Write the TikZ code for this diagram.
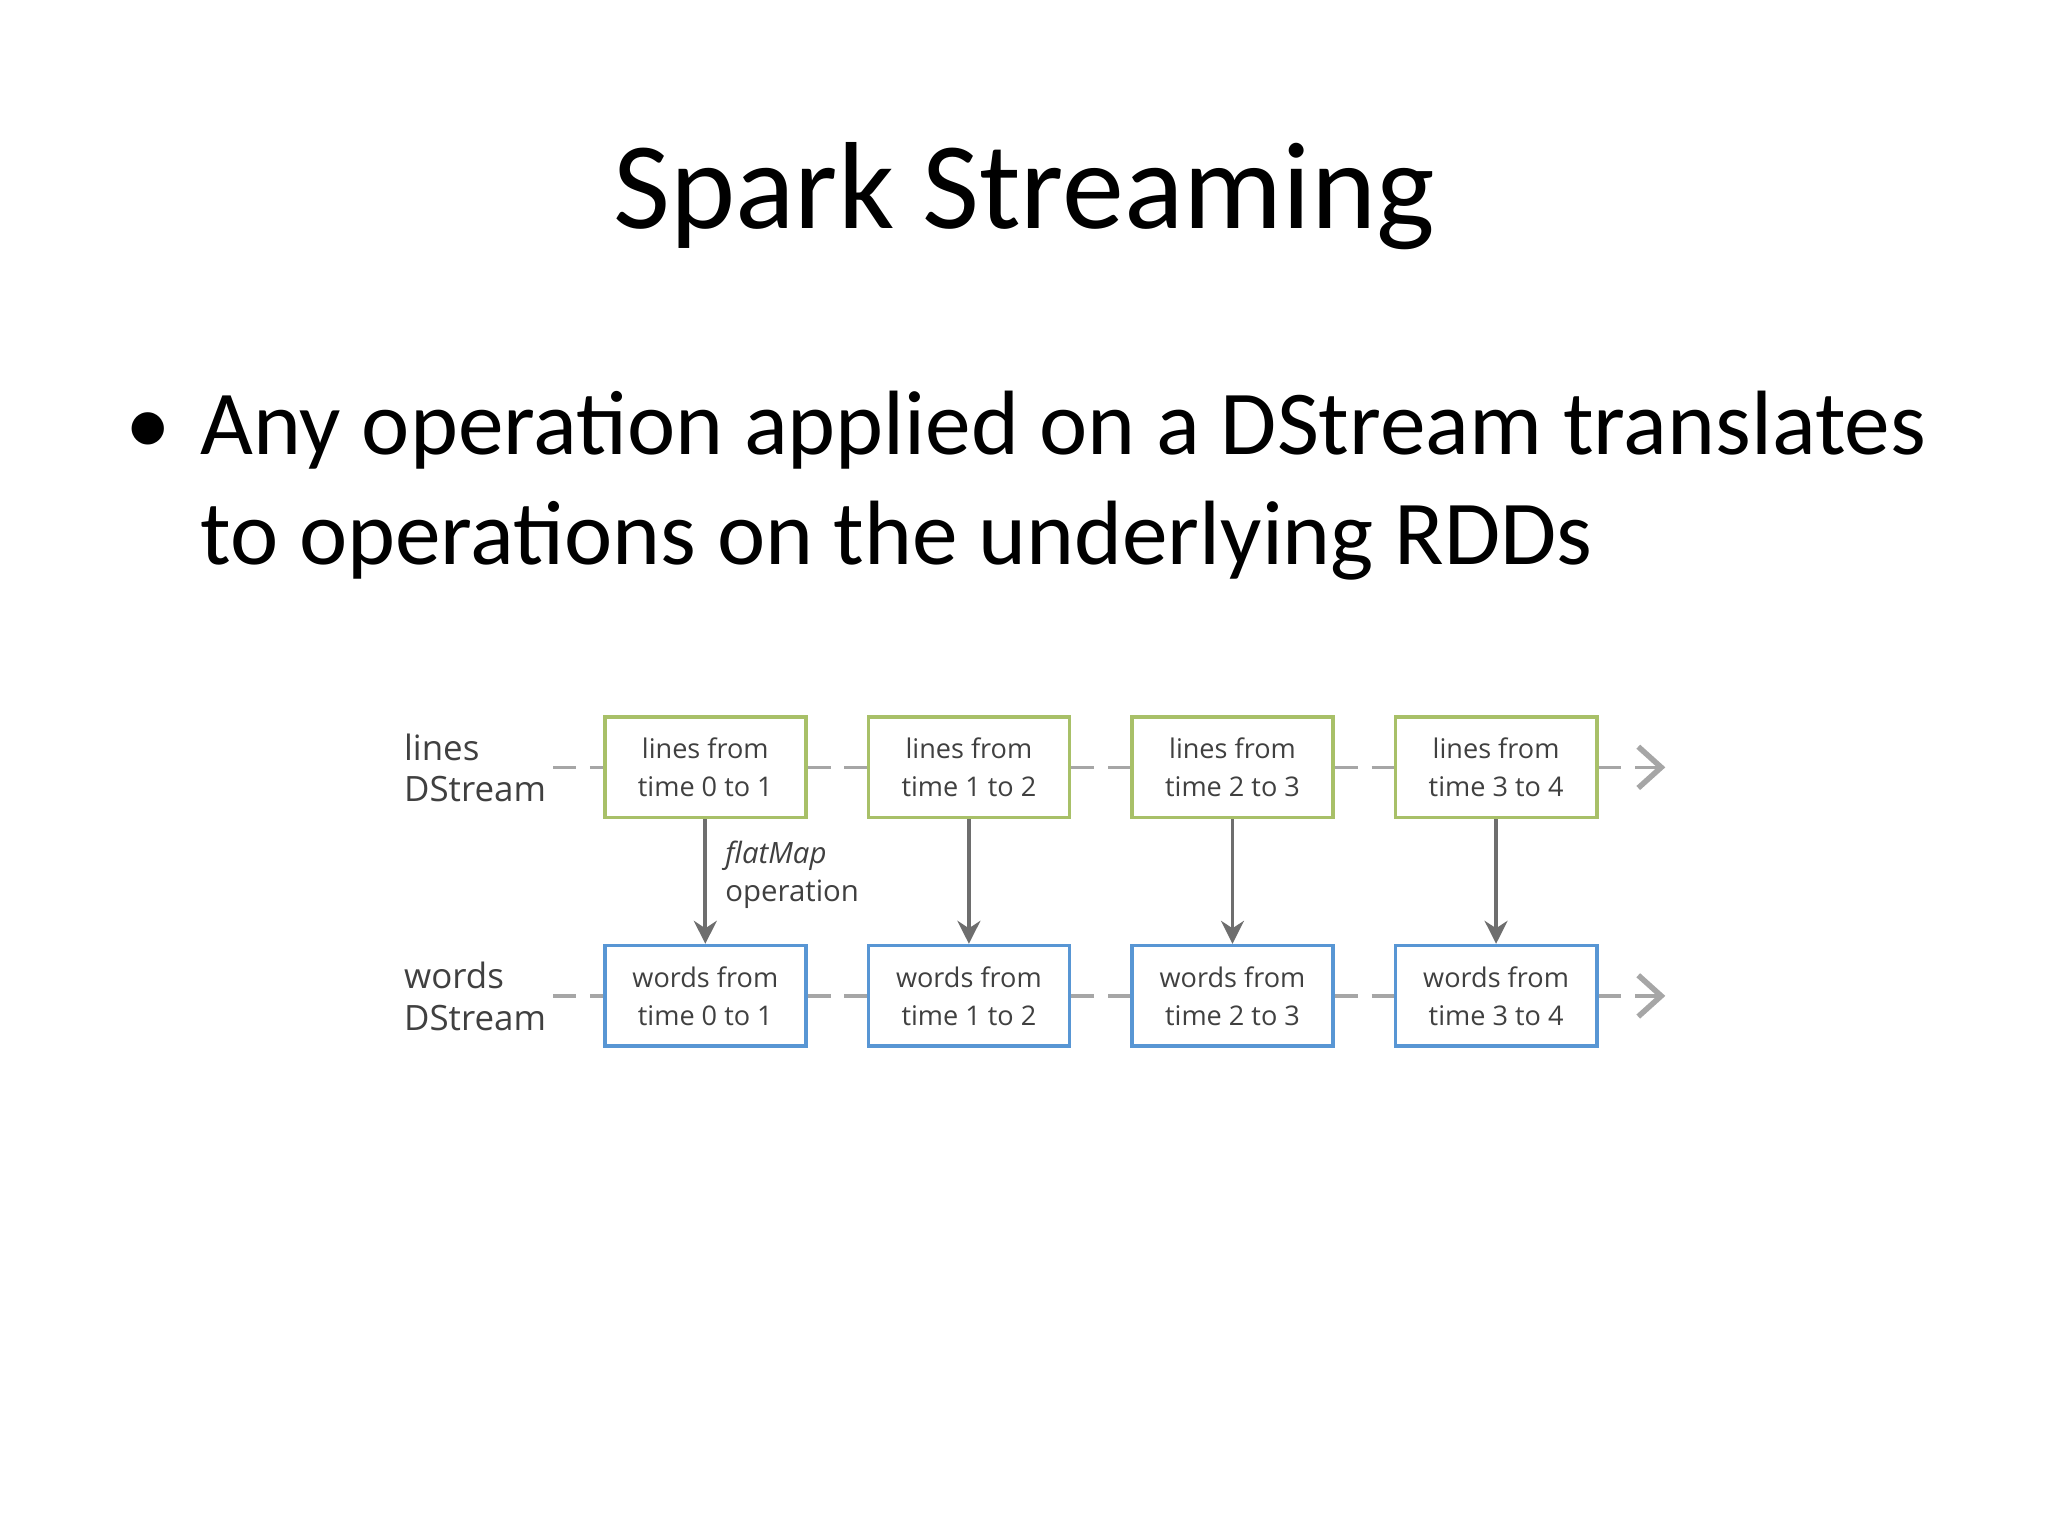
\documentclass[tikz,border=0pt]{standalone}
\usepackage{fontspec}
\setmainfont{Carlito}
\newfontfamily\diafont{Open Sans}
\usetikzlibrary{positioning,arrows.meta}
\definecolor{rddgreen}{RGB}{168,192,104}
\definecolor{rddblue}{RGB}{88,150,212}
\definecolor{linkgray}{RGB}{110,110,110}
\begin{document}
\begin{tikzpicture}[
   rdd/.style={draw,thick,minimum width=1.54cm,minimum height=0.77cm,inner sep=0pt,
     align=center,font=\diafont\fontsize{5.9}{8.3}\selectfont,text=black!75},
   lines/.style={rdd,draw=rddgreen},
   words/.style={rdd,draw=rddblue},
   link/.style={draw=black!35,thick,dash pattern=on 5pt off 3pt},
   op/.style={->,>={Stealth[length=5pt,width=5pt]},linkgray,thick},
   lbl/.style={align=left,font=\diafont\fontsize{7.6}{9}\selectfont,text=black!75},
   oplbl/.style={align=left,font=\diafont\fontsize{6.4}{8.3}\selectfont,text=black!75},
   slide/.style={font=\fontsize{19.9}{24}\selectfont}]
\useasboundingbox (0,0) rectangle (15.68,-11.76);
% title and bullet
\node[font=\fontsize{27}{32}\selectfont] (title) at (7.84,-1.5) {Spark Streaming};
\node[slide,anchor=base west,inner sep=0pt] (dot) at (0.95,-3.48) {•};
\node[slide,anchor=base west,inner sep=0pt,align=left] (bullet) at (1.53,-4.32)
  {Any operation applied on a DStream translates\\
   to operations on the underlying RDDs};
% rdds
\node[lines] (l0) at (5.40,-5.875) {lines from\\time 0 to 1};
\node[lines,right=0.45cm of l0] (l1) {lines from\\time 1 to 2};
\node[lines,right=0.45cm of l1] (l2) {lines from\\time 2 to 3};
\node[lines,right=0.45cm of l2] (l3) {lines from\\time 3 to 4};
\node[words] (w0) at (5.40,-7.625) {words from\\time 0 to 1};
\node[words,right=0.45cm of w0] (w1) {words from\\time 1 to 2};
\node[words,right=0.45cm of w1] (w2) {words from\\time 2 to 3};
\node[words,right=0.45cm of w2] (w3) {words from\\time 3 to 4};
\node[lbl,anchor=west] (ln) at (2.97,-5.88) {lines\\DStream};
\node[lbl,anchor=west] (wd) at (2.97,-7.63) {words\\DStream};
\coordinate (lend) at (12.75,-5.875);
\coordinate (wend) at (12.75,-7.625);
% streams
\foreach \r in {l,w}{
  \draw[link] (\r0.west) ++(-0.38,0) -- (\r0.west);
  \draw[link] (\r0) -- (\r1);
  \draw[link] (\r1) -- (\r2);
  \draw[link] (\r2) -- (\r3);
}
\draw[link,-{Straight Barb[length=5pt,width=9pt,line width=1.2pt]}] (l3) -- (lend);
\draw[link,-{Straight Barb[length=5pt,width=9pt,line width=1.2pt]}] (w3) -- (wend);
% flatMap
\foreach \i in {0,...,3}
  \draw[op] (l\i) -- (w\i);
\node[oplbl,anchor=west] (fm) at (5.43,-6.70) {\textit{flatMap}\\operation};
\end{tikzpicture}
\end{document}
